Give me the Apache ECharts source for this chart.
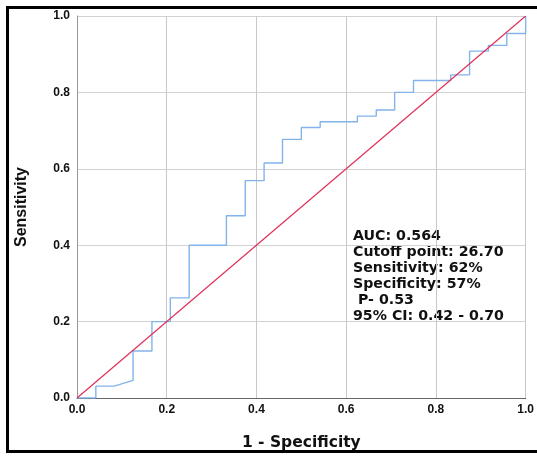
<!DOCTYPE html>
<html>
<head>
<meta charset="utf-8">
<script src="https://cdn.jsdelivr.net/npm/echarts@6/dist/echarts.min.js"></script>
<style>
  html, body { margin: 0; padding: 0; background: #fff; }
  #frame {
    position: absolute; left: 6px; top: 6px; width: 531px; height: 447px;
    border-left: 3px solid #000; border-top: 3px solid #000; border-bottom: 3px solid #000;
    box-sizing: border-box;
  }
  #chart { position: absolute; left: 0; top: 0; width: 537px; height: 456px; }
</style>
</head>
<body>
<div id="frame"></div>
<div id="chart"></div>
<script>
// ROC curve vertices (1 - specificity, sensitivity)
const fpr = [0, 0.042, 0.042, 0.083, 0.125, 0.125, 0.167, 0.167, 0.208, 0.208, 0.25, 0.25,
  0.333, 0.333, 0.375, 0.375, 0.417, 0.417, 0.458, 0.458, 0.5, 0.5, 0.542, 0.542,
  0.625, 0.625, 0.667, 0.667, 0.708, 0.708, 0.75, 0.75, 0.833, 0.833, 0.875, 0.875,
  0.917, 0.917, 0.958, 0.958, 1, 1]
const tpr = [0, 0, 0.031, 0.031, 0.046, 0.123, 0.123, 0.2, 0.2, 0.262, 0.262, 0.4,
  0.4, 0.477, 0.477, 0.569, 0.569, 0.615, 0.615, 0.677, 0.677, 0.708, 0.708, 0.723,
  0.723, 0.738, 0.738, 0.754, 0.754, 0.8, 0.8, 0.831, 0.831, 0.846, 0.846, 0.908,
  0.908, 0.923, 0.923, 0.954, 0.954, 1]
// reference line
const refX = [0, 1]
const refY = [0, 1]
const tickLabels = ['0.0', '0.2', '0.4', '0.6', '0.8', '1.0']
const statLines = [
  'AUC: 0.564',
  'Cutoff point: 26.70',
  'Sensitivity: 62%',
  'Specificity: 57%',
  ' P- 0.53',
  '95% CI: 0.42 - 0.70'
]

const chart = echarts.init(document.getElementById('chart'))
const font = 'Liberation Sans, Arial, sans-serif'
const wide = 'DejaVu Sans, Verdana, sans-serif'
const axisLabel = {
  fontFamily: font,
  fontWeight: 'bold',
  fontSize: 12,
  color: '#111',
  formatter: (v) => tickLabels[Math.round(v * 5)]
}
const option = {
  animation: false,
  grid: { left: 77, right: 11, top: 16, bottom: 57 },
  xAxis: {
    type: 'value', min: 0, max: 1, interval: 0.2,
    name: '1 - Specificity', nameLocation: 'middle', nameGap: 37,
    nameTextStyle: { fontFamily: wide, fontWeight: 'bold', fontSize: 15.5, color: '#111' },
    axisLine: { lineStyle: { color: '#666', width: 1 } },
    axisTick: { show: false },
    axisLabel: { ...axisLabel, margin: 6 },
    splitLine: { lineStyle: { color: '#c8c8c8', width: 1 } }
  },
  yAxis: {
    type: 'value', min: 0, max: 1, interval: 0.2,
    name: 'Sensitivity', nameLocation: 'middle', nameGap: 47,
    nameTextStyle: { fontFamily: font, fontWeight: 'bold', fontSize: 16, color: '#111' },
    axisLine: { show: true, lineStyle: { color: '#999', width: 1 } },
    axisTick: { show: false },
    axisLabel: { ...axisLabel, margin: 7 },
    splitLine: { lineStyle: { color: '#d2d2d2', width: 1 } }
  },
  graphic: [{
    type: 'text', left: 353, top: 228,
    style: {
      text: statLines.join('\n'),
      font: 'bold 14.2px ' + wide,
      lineHeight: 16,
      fill: '#111'
    }
  }],
  series: [
    {
      type: 'line', symbol: 'none',
      data: fpr.map((x, i) => [x, tpr[i]]),
      lineStyle: { color: '#82b3ea', width: 1.4 }
    },
    {
      type: 'line', symbol: 'none',
      data: refX.map((x, i) => [x, refY[i]]),
      lineStyle: { color: '#e0305a', width: 1.2 }
    }
  ]
}
chart.setOption(option)
</script>
</body>
</html>
